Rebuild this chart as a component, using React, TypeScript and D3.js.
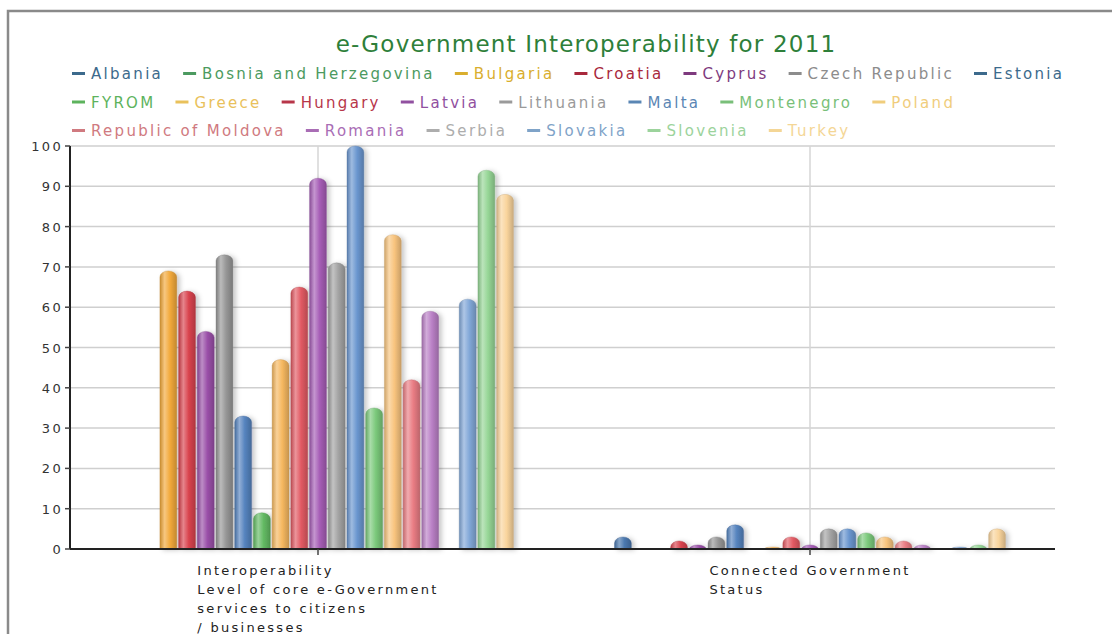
import React from 'react';
import * as d3 from 'd3';

const TITLE = 'e-Government Interoperability for 2011';

const countries = [
  'Albania', 'Bosnia and Herzegovina', 'Bulgaria', 'Croatia', 'Cyprus', 'Czech Republic', 'Estonia',
  'FYROM', 'Greece', 'Hungary', 'Latvia', 'Lithuania', 'Malta', 'Montenegro', 'Poland',
  'Republic of Moldova', 'Romania', 'Serbia', 'Slovakia', 'Slovenia', 'Turkey',
];

const categoryKeys = ['Interoperability', 'Connected Government Status'];
const categoryLines = [
  ['Interoperability', 'Level of core e-Government', 'services to citizens', '/ businesses'],
  ['Connected Government', 'Status'],
];

const interopValues: (number | null)[] = [
  null, null, 69, 64, 54, 73, 33, 9, 47, 65, 92, 71, 100, 35, 78, 42, 59, null, 62, 94, 88,
];
const connectedValues: (number | null)[] = [
  3, null, null, 2, 1, 3, 6, null, 0.5, 3, 1, 5, 5, 4, 3, 2, 1, null, 0.5, 1, 5,
];

const barColors = [
  '#4A77AE', '#4FA35C', '#F2A93B', '#D9434E', '#9A4FA8', '#969696', '#5583BE',
  '#63BA63', '#F6B860', '#E25A63', '#A65DB6', '#A3A3A3', '#6A96CF', '#7BC97B', '#F8C47E',
  '#EA7D84', '#BA80C6', '#B0B0B0', '#82A8D8', '#96D696', '#F9D49C',
];
const legendColors = [
  '#3C6A8C', '#4C9A60', '#D9AE2E', '#A8283C', '#7E3A7E', '#8C8C8C', '#3C6A8C',
  '#5DB35D', '#E9C15B', '#B73649', '#9150A0', '#9A9A9A', '#5A86B4', '#79BF79', '#F0CD7C',
  '#D07A80', '#A96DB5', '#ADADAD', '#7FA3C8', '#9CD39C', '#F4D696',
];

const yTicks = [0, 10, 20, 30, 40, 50, 60, 70, 80, 90, 100];
const legendRowStarts = [0, 7, 15];

const W = 1112;
const H = 634;
const PLOT = { left: 70, right: 1055, top: 146, bottom: 549 };
const FONT = "'DejaVu Sans', Verdana, sans-serif";

let ctx: CanvasRenderingContext2D | null = null;
function measure(text: string, size: number, ls: number) {
  if (!ctx) ctx = document.createElement('canvas').getContext('2d');
  if (!ctx) return text.length * size * 0.6;
  ctx.font = `${size}px 'DejaVu Sans'`;
  return ctx.measureText(text).width + ls * text.length;
}

function barPath(x: number, w: number, yt: number, yb: number) {
  const h = yb - yt;
  const rx = w / 2;
  const ry = Math.min(6, h);
  return `M${x},${yb}L${x},${yt + ry}A${rx},${ry} 0 0 1 ${x + w},${yt + ry}L${x + w},${yb}Z`;
}

export default function App() {
  const y = d3.scaleLinear().domain([0, 100]).range([PLOT.bottom, PLOT.top]);
  const x0 = d3.scaleBand<string>().domain(categoryKeys).range([72, 1056]);
  const x1 = d3
    .scaleBand<string>()
    .domain(countries)
    .range([0, x0.bandwidth()])
    .paddingInner(0.1)
    .paddingOuter(2.7);

  const groups = [interopValues, connectedValues];

  // legend layout
  const legendSize = 15;
  const legendLs = 2.3;
  const legendItems: { i: number; x: number; y: number }[] = [];
  legendRowStarts.forEach((start, r) => {
    const end = r + 1 < legendRowStarts.length ? legendRowStarts[r + 1] : countries.length;
    let cx = 72;
    for (let i = start; i < end; i++) {
      legendItems.push({ i, x: cx, y: 79 + r * 28.5 });
      cx += 13 + 6 + measure(countries[i], legendSize, legendLs) + 20;
    }
  });

  const labelSize = 13;
  const labelLs = 2.3;

  return (
    <svg
      width={W}
      height={H}
      style={{ position: 'absolute', left: 0, top: 0, background: '#fff' }}
      fontFamily={FONT}
    >
      <defs>
        {barColors.map((c, i) => {
          const base = d3.color(c)!;
          return (
            <linearGradient key={i} id={`g${i}`} x1="0" x2="1" y1="0" y2="0">
              <stop offset="0%" stopColor={d3.color(c)!.darker(0.5).formatHex()} />
              <stop offset="28%" stopColor={d3.interpolateRgb(c, '#ffffff')(0.35)} />
              <stop offset="60%" stopColor={base.formatHex()} />
              <stop offset="100%" stopColor={d3.color(c)!.darker(0.6).formatHex()} />
            </linearGradient>
          );
        })}
        <filter id="shadow" x="-50%" y="-20%" width="200%" height="140%">
          <feDropShadow dx="3" dy="1" stdDeviation="2.5" floodColor="#000" floodOpacity="0.22" />
        </filter>
      </defs>

      {/* frame */}
      <path d={`M8,${H}V11H${W}`} fill="none" stroke="#8a8a8a" strokeWidth={2.5} />

      {/* title */}
      <text x={586} y={52} textAnchor="middle" fontSize={23} letterSpacing={1.2} fill="#2E7F3A">
        {TITLE}
      </text>

      {/* legend */}
      {legendItems.map(({ i, x, y: ly }) => (
        <g key={countries[i]}>
          <line x1={x} x2={x + 13} y1={ly - 5.5} y2={ly - 5.5} stroke={legendColors[i]} strokeWidth={3} />
          <text x={x + 19} y={ly} fontSize={legendSize} letterSpacing={legendLs} fill={legendColors[i]}>
            {countries[i]}
          </text>
        </g>
      ))}

      {/* grid */}
      {yTicks.map((t) => (
        <line
          key={t}
          x1={PLOT.left}
          x2={PLOT.right}
          y1={y(t)}
          y2={y(t)}
          stroke="#cfcfcf"
          strokeWidth={1.5}
        />
      ))}
      {categoryKeys.map((k) => {
        const cx = x0(k)! + x0.bandwidth() / 2;
        return <line key={k} x1={cx} x2={cx} y1={PLOT.top} y2={PLOT.bottom} stroke="#d6d6d6" strokeWidth={1.5} />;
      })}

      {/* bars */}
      <g filter="url(#shadow)">
        {groups.map((vals, gi) =>
          vals.map((v, i) => {
            if (v === null) return null;
            const bx = x0(categoryKeys[gi])! + x1(countries[i])!;
            return (
              <path
                key={`${gi}-${i}`}
                d={barPath(bx, x1.bandwidth(), y(v), y(0))}
                fill={`url(#g${i})`}
                stroke={d3.color(barColors[i])!.darker(0.7).formatHex()}
                strokeOpacity={0.45}
                strokeWidth={0.8}
              />
            );
          })
        )}
      </g>

      {/* axes */}
      <line x1={PLOT.left} x2={PLOT.left} y1={PLOT.top} y2={PLOT.bottom} stroke="#222" strokeWidth={2} />
      <line x1={PLOT.left} x2={PLOT.right} y1={PLOT.bottom} y2={PLOT.bottom} stroke="#222" strokeWidth={2} />
      {yTicks.map((t) => (
        <g key={t}>
          <line x1={PLOT.left - 5} x2={PLOT.left} y1={y(t)} y2={y(t)} stroke="#444" strokeWidth={1.5} />
          <text
            x={PLOT.left - 7}
            y={y(t) + 5}
            textAnchor="end"
            fontSize={labelSize}
            letterSpacing={labelLs}
            fill="#333"
          >
            {t}
          </text>
        </g>
      ))}
      {categoryKeys.map((k, ci) => {
        const cx = x0(k)! + x0.bandwidth() / 2;
        const lines = categoryLines[ci];
        const maxW = Math.max(...lines.map((l) => measure(l, labelSize, labelLs)));
        return (
          <g key={k}>
            <line x1={cx} x2={cx} y1={PLOT.bottom} y2={PLOT.bottom + 6} stroke="#444" strokeWidth={1.5} />
            {lines.map((l, li) => (
              <text
                key={li}
                x={cx - maxW / 2}
                y={575 + li * 19}
                fontSize={labelSize}
                letterSpacing={labelLs}
                fill="#222"
              >
                {l}
              </text>
            ))}
          </g>
        );
      })}
    </svg>
  );
}
